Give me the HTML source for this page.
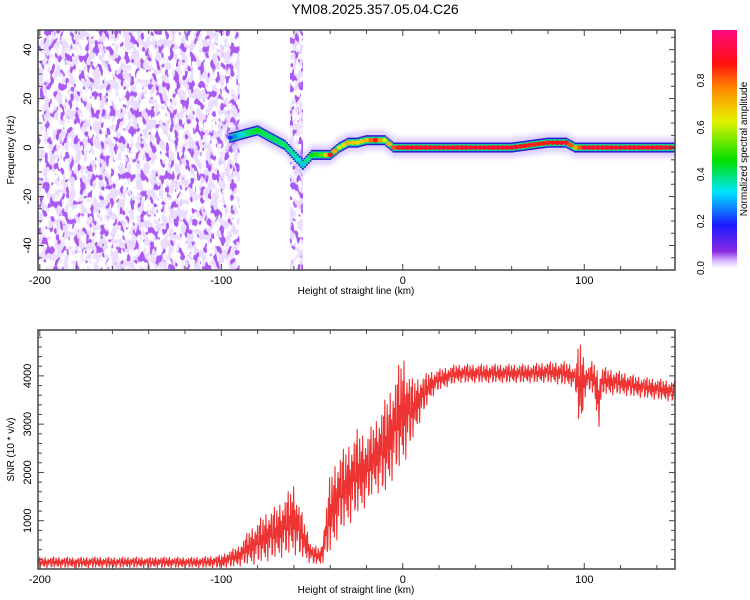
<!DOCTYPE html>
<html><head><meta charset="utf-8">
<style>
html,body{margin:0;padding:0;background:#fff;}
svg{display:block;font-family:"Liberation Sans",sans-serif;}
</style></head>
<body>
<svg id="chart" width="750" height="600" viewBox="0 0 750 600" xmlns="http://www.w3.org/2000/svg">
<defs>
  <linearGradient id="cbar" x1="0" y1="1" x2="0" y2="0">
    <stop offset="0" stop-color="#ffffff"/>
    <stop offset="0.03" stop-color="#d9b8ff"/>
    <stop offset="0.07" stop-color="#8a2be2"/>
    <stop offset="0.18" stop-color="#1a1aff"/>
    <stop offset="0.32" stop-color="#00e5ff"/>
    <stop offset="0.45" stop-color="#00e000"/>
    <stop offset="0.62" stop-color="#e6f000"/>
    <stop offset="0.75" stop-color="#ff8c00"/>
    <stop offset="0.86" stop-color="#ff1010"/>
    <stop offset="1" stop-color="#ff0a80"/>
  </linearGradient>
  <filter id="speckle" x="0" y="0" width="100%" height="100%">
    <feTurbulence type="fractalNoise" baseFrequency="0.2 0.11" numOctaves="2" seed="7" result="n"/>
    <feColorMatrix in="n" type="matrix" values="0 0 0 0 0.4  0 0 0 0 0.1  0 0 0 0 0.9  -14 0 0 0 6.1" />
  </filter>
  <filter id="speckle2" x="0" y="0" width="100%" height="100%">
    <feTurbulence type="fractalNoise" baseFrequency="0.16 0.1" numOctaves="2" seed="3" result="n"/>
    <feColorMatrix in="n" type="matrix" values="0 0 0 0 0.82  0 0 0 0 0.72  0 0 0 0 1  -9 0 0 0 4.9" />
  </filter>
  <filter id="blur1"><feGaussianBlur stdDeviation="2.5"/></filter>
  <clipPath id="clipTop"><rect x="38" y="30" width="637" height="240"/></clipPath>
  <clipPath id="clipBot"><rect x="38" y="330" width="637" height="239"/></clipPath>
</defs>
<text x="375" y="14" text-anchor="middle" font-size="14">YM08.2025.357.05.04.C26</text>
<g id="topPanel"></g>
<g id="botPanel"></g>
<g id="cb"></g>
</svg>
<script>
// ---- data ----
const ridgeHeights = [-95,-90,-85,-80,-75,-70,-65,-60,-55,-50,-45,-40,-35,-30,-25,-20,-15,-10,-5,0,10,20,30,40,50,60,70,80,90,95,100,110,120,130,140,150];
const ridgeFreqs   = [4,5,6,7,5,3,1,-3,-7,-3,-3,-3,0,2,2,3,3,3,0,0,0,0,0,0,0,0,1,2,2,0,0,0,0,0,0,0];
const ridgeAmps    = [0.2,0.3,0.4,0.45,0.4,0.4,0.4,0.35,0.3,0.45,0.5,0.85,0.6,0.7,0.65,0.7,0.85,0.6,0.8,0.9,0.9,0.9,0.9,0.9,0.9,0.9,0.85,0.85,0.9,0.7,0.9,0.9,0.9,0.9,0.9,0.9];
const noiseBands   = [[-201,-90],[-62,-55]];
const snrHeights = [-200,-190,-180,-170,-160,-150,-140,-130,-120,-110,-100,-90,-85,-80,-75,-70,-65,-60,-55,-50,-45,-40,-35,-30,-25,-20,-15,-10,-5,0,5,10,15,20,30,40,50,60,70,80,90,95,98,100,102,105,108,110,120,130,140,150];
const snrLow  = [20,20,20,20,20,20,20,20,20,20,20,50,80,100,150,200,250,300,200,100,80,300,700,900,1100,1300,1600,1500,1900,2100,2600,3100,3500,3700,3850,3850,3850,3850,3850,3850,3800,3750,2600,3500,3700,3600,2900,3600,3600,3550,3500,3450];
const snrHigh = [250,260,250,260,250,260,250,260,250,260,300,500,800,1000,1200,1300,1500,1800,1100,500,450,2000,2400,2600,2900,2800,3100,3500,3900,4500,3950,4000,4100,4150,4250,4250,4250,4250,4250,4300,4300,4200,4900,4300,4200,4350,4100,4200,4100,4000,3950,3900];
const xTicks = [-200,-100,0,100];
const yTicksTop = [-40,-20,0,20,40];
const yTicksBot = [1000,2000,3000,4000];
const cbTicks = [0.0,0.2,0.4,0.6,0.8];

const NS='http://www.w3.org/2000/svg';
function mk(tag, attrs, parent){const e=document.createElementNS(NS,tag);for(const k in attrs)e.setAttribute(k,attrs[k]);parent.appendChild(e);return e;}
const xMin=-201,xMax=150,L=38,R=675;
const X=v=>L+(v-xMin)/(xMax-xMin)*(R-L);
const T0=30,T1=270,fMin=-50,fMax=48;
const YT=v=>T1-(v-fMin)/(fMax-fMin)*(T1-T0);
const B0=330,B1=569,sMax=4950;
const YB=v=>B1-v/sMax*(B1-B0);
function interp(xs,ys,x){if(x<=xs[0])return ys[0];for(let i=1;i<xs.length;i++){if(x<=xs[i]){const t=(x-xs[i-1])/(xs[i]-xs[i-1]);return ys[i-1]+t*(ys[i]-ys[i-1]);}}return ys[ys.length-1];}
function colorOf(a){
  const stops=[[0,[255,255,255]],[0.07,[138,43,226]],[0.18,[26,26,255]],[0.32,[0,229,255]],[0.45,[0,224,0]],[0.62,[230,240,0]],[0.75,[255,140,0]],[0.86,[255,16,16]],[1,[255,10,128]]];
  for(let i=1;i<stops.length;i++){if(a<=stops[i][0]){const t=(a-stops[i-1][0])/(stops[i][0]-stops[i-1][0]);const c=stops[i-1][1].map((v,j)=>Math.round(v+t*(stops[i][1][j]-v)));return 'rgb('+c.join(',')+')';}}
  return 'rgb(255,10,128)';
}
function axes(g,y0,y1,yTicks,Y,ylabel,ylabX){
  const fr=mk('rect',{x:L,y:y0,width:R-L,height:y1-y0,fill:'none',stroke:'#444','stroke-width':1.5},g);
  
  
  for(let v=-200;v<=150;v+=20){
    const big=xTicks.includes(v), len=big?6:4;
    mk('line',{x1:X(v),x2:X(v),y1:y1,y2:y1-len,stroke:'#444'},g);
    mk('line',{x1:X(v),x2:X(v),y1:y0,y2:y0+len,stroke:'#444'},g);
  }
  xTicks.forEach(v=>{const t=mk('text',{x:X(v),y:y1+14,'text-anchor':'middle','font-size':11},g);t.textContent=v;
    
    });
  const xl=mk('text',{x:356,y:y1+24,'text-anchor':'middle','font-size':10},g);xl.textContent='Height of straight line (km)';
  
  
  yTicks.forEach(v=>{const t=mk('text',{transform:'translate(31,'+Y(v)+') rotate(-90)','text-anchor':'middle','font-size':11},g);t.textContent=v;
    
    });
  const yl=mk('text',{transform:'translate('+ylabX+','+((y0+y1)/2)+') rotate(-90)','text-anchor':'middle','font-size':10},g);yl.textContent=ylabel;
  
  
}
// ---- top ----
const topG=document.getElementById('topPanel');
const tc=mk('g',{'clip-path':'url(#clipTop)'},topG);
noiseBands.forEach(b=>{
  const r1=mk('rect',{x:X(b[0]),y:T0,width:X(b[1])-X(b[0]),height:T1-T0,filter:'url(#speckle2)'},tc);
  
  
  const r2=mk('rect',{x:X(b[0]),y:T0,width:X(b[1])-X(b[0]),height:T1-T0,filter:'url(#speckle)'},tc);
  
  
});
const halo=mk('g',{filter:'url(#blur1)',opacity:0.45},tc);
for(let h=ridgeHeights[0];h<=150;h+=1.5){
  const f=interp(ridgeHeights,ridgeFreqs,h);
  const hr=mk('rect',{x:X(h)-2,y:YT(f)-10,width:4,height:20,fill:'#b898ff'},halo);
  
  
}
const core=mk('g',{},tc);
for(let h=ridgeHeights[0];h<=150;h+=1){
  const f=interp(ridgeHeights,ridgeFreqs,h);
  const r=mk('rect',{x:X(h)-1.2,y:YT(f)-5,width:2.4,height:10,fill:'#2a18d8'},core);
  
  
}
for(let h=ridgeHeights[0];h<=150;h+=1){
  const f=interp(ridgeHeights,ridgeFreqs,h);
  const r=mk('rect',{x:X(h)-1.2,y:YT(f)-3.5,width:2.4,height:7,fill:'#10d890'},core);
  
  
}
for(let h=ridgeHeights[0];h<=150;h+=2.5){
  const f=interp(ridgeHeights,ridgeFreqs,h), a=interp(ridgeHeights,ridgeAmps,h);
  const c=mk('ellipse',{cx:X(h),cy:YT(f),rx:2.8,ry:2.3,fill:colorOf(a)},core);
  
  
}
axes(topG,T0,T1,yTicksTop,YT,'Frequency (Hz)',14);
for(let v=-50;v<=48;v+=5){mk('line',{x1:L,x2:L+(v%20===0?6:4),y1:YT(v),y2:YT(v),stroke:'#444'},topG);mk('line',{x1:R,x2:R-(v%20===0?6:4),y1:YT(v),y2:YT(v),stroke:'#444'},topG);}
// ---- bottom ----
const botG=document.getElementById('botPanel');
const bc=mk('g',{'clip-path':'url(#clipBot)'},botG);
let pts=[];let k=0;
const wig=[0.15,0.85,0.4,1,0.05,0.6,0.3,0.9,0.5,0.2,0.75,0.1,0.95,0.35,0.65,0.0,0.55,0.8,0.25,0.7,0.45,0.9,0.1];
for(let px=L;px<=R;px+=0.6){
  const h=xMin+(px-L)/(R-L)*(xMax-xMin);
  const lo=interp(snrHeights,snrLow,h), hi=interp(snrHeights,snrHigh,h);
  const w=wig[k%wig.length];k++;
  pts.push(px.toFixed(1)+','+YB(lo+(hi-lo)*w).toFixed(1));
}
const line=mk('polyline',{points:pts.join(' '),fill:'none',stroke:'#ee3333','stroke-width':1.1},bc);


axes(botG,B0,B1,yTicksBot,YB,'SNR (10 * v/v)',14);
for(let v=200;v<sMax;v+=200){const len=v%1000===0?6:4;mk('line',{x1:L,x2:L+len,y1:YB(v),y2:YB(v),stroke:'#444'},botG);mk('line',{x1:R,x2:R-len,y1:YB(v),y2:YB(v),stroke:'#444'},botG);}
// ---- colorbar ----
const cb=document.getElementById('cb');
const C0=30,C1=268;
const cr=mk('rect',{x:712,y:C0,width:25,height:C1-C0,fill:'url(#cbar)'},cb);


cbTicks.forEach(v=>{const y=C1-v*(C1-C0)*0.985;
  const t=mk('text',{transform:'translate(704,'+y+') rotate(-90)','text-anchor':'middle','font-size':10},cb);t.textContent=v.toFixed(1);
  
  });
const cl=mk('text',{transform:'translate(747,'+((C0+C1)/2)+') rotate(-90)','text-anchor':'middle','font-size':10},cb);cl.textContent='Normalized spectral amplitude';


</script>
</body></html>
